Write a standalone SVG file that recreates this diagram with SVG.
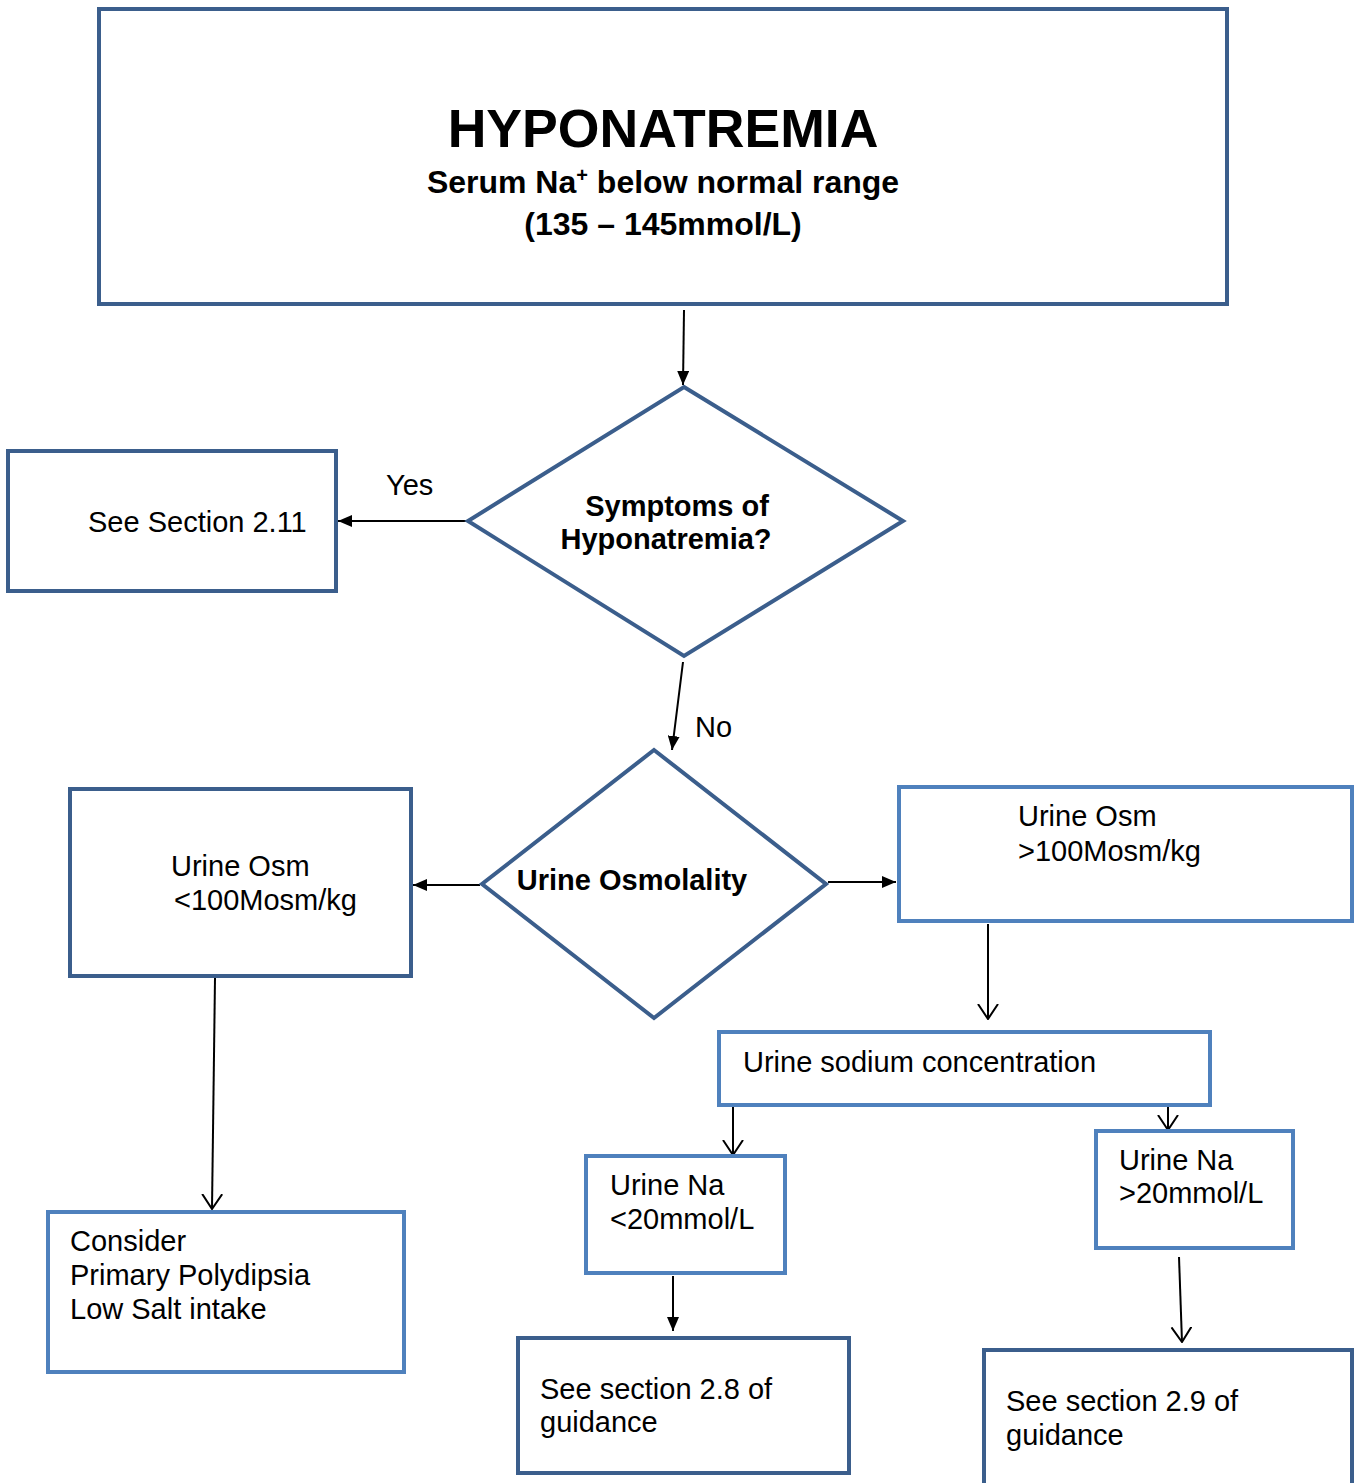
<svg xmlns="http://www.w3.org/2000/svg" width="1362" height="1483" viewBox="0 0 1362 1483">
<style>
  .dk { fill: #ffffff; stroke: #3B5E8C; stroke-width: 4; }
  .lt { fill: #ffffff; stroke: #4F81BD; stroke-width: 4; }
  .t { font-family: "Liberation Sans", Arial, sans-serif; font-size: 29px; fill: #000; }
  .b { font-family: "Liberation Sans", Arial, sans-serif; font-weight: bold; fill: #000; }
  .c { stroke: #000; stroke-width: 2; fill: none; }
</style>
<defs>
  <marker id="fa" viewBox="0 0 14 12" refX="14" refY="6" markerWidth="14" markerHeight="12" markerUnits="userSpaceOnUse" orient="auto">
    <path d="M0,0 L14,6 L0,12 Z" fill="#000"/>
  </marker>
  <marker id="oa" viewBox="0 0 16 22" refX="15" refY="11" markerWidth="16" markerHeight="22" markerUnits="userSpaceOnUse" orient="auto">
    <path d="M0,1 L15,11 L0,21" fill="none" stroke="#000" stroke-width="2"/>
  </marker>
</defs>

<g id="connectors">
  <line class="c" x1="684" y1="310" x2="683" y2="385" marker-end="url(#fa)"/>
  <line class="c" x1="466" y1="521" x2="338" y2="521" marker-end="url(#fa)"/>
  <line class="c" x1="683" y1="662" x2="672" y2="750" marker-end="url(#fa)"/>
  <line class="c" x1="480" y1="885" x2="413" y2="885" marker-end="url(#fa)"/>
  <line class="c" x1="828" y1="882" x2="896" y2="882" marker-end="url(#fa)"/>
  <line class="c" x1="988" y1="924" x2="988" y2="1019" marker-end="url(#oa)"/>
  <line class="c" x1="733" y1="1107" x2="733" y2="1155" marker-end="url(#oa)"/>
  <line class="c" x1="1168" y1="1107" x2="1168" y2="1130" marker-end="url(#oa)"/>
  <line class="c" x1="673" y1="1276" x2="673" y2="1331" marker-end="url(#fa)"/>
  <line class="c" x1="1179" y1="1257" x2="1182" y2="1342" marker-end="url(#oa)"/>
  <line class="c" x1="215" y1="978" x2="212" y2="1209" marker-end="url(#oa)"/>
  <text class="t" x="386" y="495">Yes</text>
  <text class="t" x="695" y="737">No</text>
</g>

<g id="n-hyponatremia">
  <rect class="dk" x="99" y="9" width="1128" height="295"/>
  <text class="b" x="663" y="147" font-size="53.6" text-anchor="middle">HYPONATREMIA</text>
  <text class="b" x="663" y="193" font-size="32" text-anchor="middle">Serum Na<tspan font-size="20" dy="-11">+</tspan><tspan dy="11"> below normal range</tspan></text>
  <text class="b" x="663" y="235" font-size="32" text-anchor="middle">(135 – 145mmol/L)</text>
</g>

<g id="n-symptoms">
  <polygon class="dk" points="684,387 903,521 684,656 468,521"/>
  <text class="b" x="677" y="516" font-size="29" text-anchor="middle">Symptoms of</text>
  <text class="b" x="666" y="549" font-size="29" text-anchor="middle">Hyponatremia?</text>
</g>

<g id="n-section211">
  <rect class="dk" x="8" y="451" width="328" height="140"/>
  <text class="t" x="88" y="532">See Section 2.11</text>
</g>

<g id="n-osmolality">
  <polygon class="dk" points="654,750 826,884 654,1018 482,884"/>
  <text class="b" x="632" y="890" font-size="29" text-anchor="middle">Urine Osmolality</text>
</g>

<g id="n-osm-low">
  <rect class="dk" x="70" y="789" width="341" height="187"/>
  <text class="t" x="171" y="876">Urine Osm</text>
  <text class="t" x="174" y="910">&lt;100Mosm/kg</text>
</g>

<g id="n-osm-high">
  <rect class="lt" x="899" y="787" width="453" height="134"/>
  <text class="t" x="1018" y="826">Urine Osm</text>
  <text class="t" x="1018" y="861">&gt;100Mosm/kg</text>
</g>

<g id="n-urine-sodium">
  <rect class="lt" x="719" y="1032" width="491" height="73"/>
  <text class="t" x="743" y="1072">Urine sodium concentration</text>
</g>

<g id="n-na-low">
  <rect class="lt" x="586" y="1156" width="199" height="117"/>
  <text class="t" x="610" y="1195">Urine Na</text>
  <text class="t" x="610" y="1229">&lt;20mmol/L</text>
</g>

<g id="n-na-high">
  <rect class="lt" x="1096" y="1131" width="197" height="117"/>
  <text class="t" x="1119" y="1170">Urine Na</text>
  <text class="t" x="1119" y="1203">&gt;20mmol/L</text>
</g>

<g id="n-section28">
  <rect class="dk" x="518" y="1338" width="331" height="135"/>
  <text class="t" x="540" y="1399">See section 2.8 of</text>
  <text class="t" x="540" y="1432">guidance</text>
</g>

<g id="n-section29">
  <rect class="dk" x="984" y="1350" width="368" height="140"/>
  <text class="t" x="1006" y="1411">See section 2.9 of</text>
  <text class="t" x="1006" y="1445">guidance</text>
</g>

<g id="n-consider">
  <rect class="lt" x="48" y="1212" width="356" height="160"/>
  <text class="t" x="70" y="1251">Consider</text>
  <text class="t" x="70" y="1285">Primary Polydipsia</text>
  <text class="t" x="70" y="1319">Low Salt intake</text>
</g>
</svg>
